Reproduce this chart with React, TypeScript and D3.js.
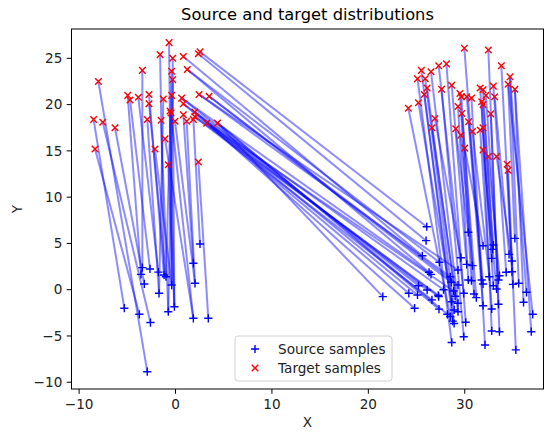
import React from 'react';
import * as d3 from 'd3';

// Source samples (blue +)
const sourceX = [
  -2.93, -5.31, -3.75, -2.6, -3.24, -3.58, -2.65, -1.78, -3.44, -1.19,
  -0.99, -1.71, -0.4, -0.75, -0.12, 1.85, 3.4, 1.85, 2.02, 2.54,
  26.06, 25.99, 25.6, 26.3, 27.37, 29.3, 28.5, 28.6, 29.3, 26.5,
  25.2, 26.1, 24.2, 27.8, 25.1, 26.6, 27.26, 28.85, 27.3, 21.5,
  27.33, 24.8, 28.2,
  28.5, 28.65, 28.65, 28.75, 28.9, 28.9, 29.0, 29.3, 29.3, 29.6,
  29.9, 29.9, 30.1, 30.2, 30.37, 30.37, 30.7, 30.8, 30.96, 31.2,
  31.76, 31.9, 31.9, 31.9, 32.1, 32.55, 32.8, 32.8, 32.8, 32.9,
  32.97, 32.97, 33.3, 33.5, 33.5, 33.6, 33.6, 34.3, 34.6, 34.9,
  34.9, 35.0, 35.2, 35.3, 35.6, 36.1, 36.4, 36.9, 37.05,
];
const sourceY = [
  -8.86, -2.0, -2.66, -3.55, 0.62, 1.66, 2.24, 1.9, 2.38, 1.59,
  1.4, -0.39, 0.5, -2.38, -1.84, -3.09, -3.09, 2.85, 0.69, 4.94,
  6.8, 5.3, 3.67, 1.88, 2.96, 2.13, 1.4, 0.8, 0.5, 1.66,
  0.43, -0.03, -0.39, 0.0, -0.57, -1.1, -0.6, -0.14, -0.75, -0.75,
  -2.1, -2.0, -2.66,
  -2.9, -5.7, -1.3, -3.4, -3.65, -2.19, -0.7, -1.47, -2.38, 3.46,
  -0.39, -5.08, -3.52, 2.74, 6.2, 1.05, 0.97, 2.6, -0.46, -0.86,
  1.05, 4.75, 0.62, -1.73, -5.97, 1.4, 3.39, -2.08, -4.46, 4.36,
  4.83, 0.43, 0.08, 1.05, -1.58, 1.51, -4.54, 1.88, 3.82, 3.1,
  1.94, 0.58, 5.55, -6.5, 0.69, -1.36, -0.28, -4.54, -2.66,
];

// Target samples (red x)
const targetX = [
  -8.0, -8.5, -8.35, -7.55, -6.28, -4.96, -4.72, -3.86, -3.44, -2.75,
  -2.75, -2.93, -2.13, -1.5, -0.75, -1.09, 2.37, 0.81, 1.16, 1.85,
  -1.6, -0.67, -0.4, -0.29, -0.29, -0.4, -1.27, -0.57, -0.47, -0.05,
  2.55, 2.37, 0.81, 1.22, 2.44, 3.48, 0.64, 0.81, 2.0, 2.0, 3.24, 4.35,
  24.15, 25.1, 25.2, 25.5, 25.8, 25.9, 26.1, 26.5, 26.6, 26.9,
  27.3, 27.6, 28.1, 28.65, 29.07, 29.3, 29.5, 29.6, 29.65, 29.7,
  29.96, 30.0, 30.2, 30.4, 30.7, 30.8, 31.6, 31.6, 31.76, 31.9,
  31.9, 31.9, 31.9, 32.2, 32.45, 32.45, 32.7, 32.97, 33.1, 33.3,
  33.8, 34.4, 34.5, 34.5, 34.7, 35.2,
];
const targetY = [
  22.5, 18.4, 15.2, 18.1, 17.5, 21.0, 20.5, 20.8, 23.7, 21.1,
  20.1, 18.4, 15.2, 18.3, 13.5, 16.3, 13.8, 18.9, 18.2, 18.4,
  25.4, 26.7, 23.6, 25.0, 22.7, 21.0, 20.6, 19.3, 19.1, 18.2,
  25.7, 25.5, 25.2, 23.8, 21.1, 20.9, 20.7, 20.1, 19.2, 18.7, 18.0, 18.0,
  19.6, 22.8, 20.2, 23.7, 21.1, 22.8, 21.8, 23.55, 17.5, 18.5,
  24.2, 21.65, 24.4, 22.1, 17.4, 19.8, 21.2, 16.7, 20.85, 19.05,
  26.1, 15.3, 20.85, 18.15, 20.7, 17.1, 21.8, 17.25, 20.3, 21.6,
  20.0, 17.5, 15.1, 21.0, 25.9, 14.4, 19.0, 22.0, 20.85, 14.4,
  24.2, 13.55, 22.2, 12.9, 23.0, 21.65,
];

// [source index, target index]
const links: [number, number][] = [
  [0, 0], [1, 1], [2, 2], [3, 3], [4, 4], [5, 5], [6, 6], [7, 7], [8, 8], [9, 9],
  [10, 10], [11, 11], [12, 12], [13, 13], [14, 14], [15, 15], [16, 16], [17, 17], [18, 18], [19, 19],
  [9, 20], [12, 21], [10, 22], [14, 23], [13, 24], [12, 25], [11, 26], [14, 27], [15, 28], [18, 29],
  [20, 30], [21, 31], [22, 32], [23, 33], [24, 33], [25, 34], [26, 34], [27, 35], [28, 35], [29, 36],
  [30, 36], [31, 37], [32, 37], [33, 38], [34, 38], [35, 39], [36, 39], [37, 40], [38, 40], [39, 41],
  [40, 41], [41, 40], [42, 41],
  [43, 42], [44, 43], [45, 44], [46, 45], [47, 46], [48, 47], [49, 48], [50, 49], [51, 50], [52, 51],
  [53, 52], [54, 53], [55, 54], [56, 55], [57, 56], [58, 57], [59, 58], [60, 59], [61, 60], [62, 61],
  [63, 62], [64, 63], [65, 64], [66, 65], [67, 66], [68, 67], [69, 68], [70, 69], [71, 70], [72, 71],
  [73, 72], [74, 73], [75, 74], [76, 75], [77, 76], [78, 77], [79, 78], [80, 79], [81, 80], [82, 81],
  [83, 82], [84, 83], [85, 84], [86, 85], [87, 86], [88, 87],
  [89, 86], [90, 87], [91, 84],
];

const xTicks = [-10, 0, 10, 20, 30];
const yTicks = [-10, -5, 0, 5, 10, 15, 20, 25];
const legendLabels = ['Source samples', 'Target samples'];

const FONT = 'DejaVu Sans, sans-serif';

export default function App() {
  const W = 545, H = 432;
  const L = 71.5, T = 29, R = 543.5, B = 389;
  const x = d3.scaleLinear().domain([-10.79, 38.17]).range([L, R]);
  const y = d3.scaleLinear().domain([-10.73, 28.17]).range([B, T]);
  const fmt = (v: number) => (v < 0 ? '\u2212' + Math.abs(v) : String(v));
  const ms = 4.1;
  const fs = 13.6;

  const plus = (cx: number, cy: number, k: string) => (
    <path key={k} d={`M${cx - ms},${cy}H${cx + ms}M${cx},${cy - ms}V${cy + ms}`} stroke="#0000ff" strokeWidth={1.4} fill="none" />
  );
  const cross = (cx: number, cy: number, k: string) => (
    <path key={k} d={`M${cx - ms * 0.8},${cy - ms * 0.8}L${cx + ms * 0.8},${cy + ms * 0.8}M${cx - ms * 0.8},${cy + ms * 0.8}L${cx + ms * 0.8},${cy - ms * 0.8}`} stroke="#ff0000" strokeWidth={1.4} fill="none" />
  );

  return (
    <svg width={W} height={H} style={{ position: 'absolute', left: 0, top: 0, background: '#fff' }} fontFamily={FONT}>
      <rect x={0} y={0} width={W} height={H} fill="#fff" />
      <defs>
        <clipPath id="plot">
          <rect x={L} y={T} width={R - L} height={B - T} />
        </clipPath>
      </defs>
      <g clipPath="url(#plot)">
        {links.map(([s, t], i) => (
          <line key={'l' + i} x1={x(sourceX[s])} y1={y(sourceY[s])} x2={x(targetX[t])} y2={y(targetY[t])}
            stroke="#0000ff" strokeOpacity={0.45} strokeWidth={2} />
        ))}
        {sourceX.map((v, i) => plus(x(v), y(sourceY[i]), 's' + i))}
        {targetX.map((v, i) => cross(x(v), y(targetY[i]), 't' + i))}
      </g>
      <rect x={L} y={T} width={R - L} height={B - T} fill="none" stroke="#000" strokeWidth={1} />
      {xTicks.map((t) => (
        <g key={'xt' + t}>
          <line x1={x(t)} x2={x(t)} y1={B} y2={B + 4.8} stroke="#000" />
          <text x={x(t)} y={B + 19.5} textAnchor="middle" fontSize={fs} fill="#222">{fmt(t)}</text>
        </g>
      ))}
      {yTicks.map((t) => (
        <g key={'yt' + t}>
          <line x1={L - 4.8} x2={L} y1={y(t)} y2={y(t)} stroke="#000" />
          <text x={L - 9.2} y={y(t)} dy="0.35em" textAnchor="end" fontSize={fs} fill="#222">{fmt(t)}</text>
        </g>
      ))}
      <text x={(L + R) / 2} y={19.5} textAnchor="middle" fontSize={16.3} fill="#000">Source and target distributions</text>
      <text x={(L + R) / 2} y={427} textAnchor="middle" fontSize={fs} fill="#222">X</text>
      <text transform={`translate(22,${(T + B) / 2}) rotate(-90)`} textAnchor="middle" fontSize={fs} fill="#222">Y</text>
      <g>
        <rect x={235} y={336} width={157} height={45} rx={3} fill="#fff" fillOpacity={0.8} stroke="#d0d0d0" />
        {plus(255, 349, 'lg0')}
        {cross(255, 368, 'lg1')}
        <text x={278} y={349} dy="0.35em" fontSize={fs} fill="#222">{legendLabels[0]}</text>
        <text x={278} y={368} dy="0.35em" fontSize={fs} fill="#222">{legendLabels[1]}</text>
      </g>
    </svg>
  );
}
